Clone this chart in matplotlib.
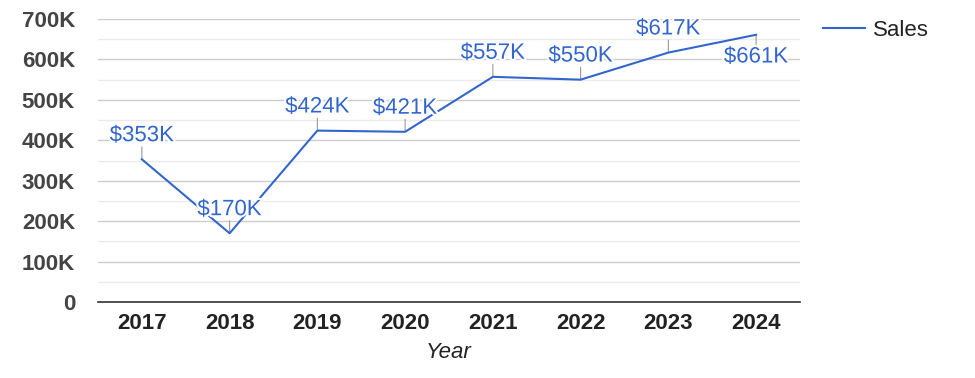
import matplotlib.pyplot as plt
import matplotlib.patheffects as pe
from matplotlib.ticker import MultipleLocator, FuncFormatter

years = ['2017', '2018', '2019', '2020', '2021', '2022', '2023', '2024']
sales = [353, 170, 424, 421, 557, 550, 617, 661]  # thousands
labels = ['$353K', '$170K', '$424K', '$421K', '$557K', '$550K', '$617K', '$661K']
label_side = ['up', 'up', 'up', 'up', 'up', 'up', 'up', 'down']

blue = '#3366cc'
plt.rcParams['font.family'] = ['Liberation Sans', 'DejaVu Sans']

fig = plt.figure(figsize=(9.75, 3.78), dpi=100)
ax = fig.add_axes([0.1005, 0.201, 0.72, 0.7487])

x = list(range(len(years)))
ax.plot(x, sales, color=blue, linewidth=1.5, label='Sales', zorder=3)

# data labels with little leader lines
for xi, v, txt, side in zip(x, sales, labels, label_side):
    sign = 1 if side == 'up' else -1
    ax.annotate('', xy=(xi, v), xytext=(0, sign * 9), textcoords='offset points',
                arrowprops=dict(arrowstyle='-', color='#999999', lw=0.8,
                                shrinkA=0, shrinkB=0), zorder=2)
    off = 17 if side == 'up' else 16
    ax.annotate(txt, xy=(xi, v), xytext=(0, sign * off), textcoords='offset points',
                ha='center', va='center', fontsize=16, color=blue, zorder=4,
                path_effects=[pe.withStroke(linewidth=3, foreground='white')])

ax.set_xlim(-0.5, len(years) - 0.5)
ax.set_ylim(0, 700)
ax.set_xticks(x)
ax.set_xticklabels(years, fontsize=16, fontweight='bold', color='#222222')
ax.yaxis.set_major_locator(MultipleLocator(100))
ax.yaxis.set_minor_locator(MultipleLocator(50))
ax.yaxis.set_major_formatter(FuncFormatter(lambda v, p: '0' if v == 0 else f'{int(v)}K'))
for t in ax.get_yticklabels():
    t.set_fontsize(16)
    t.set_fontweight('bold')
    t.set_color('#444444')
ax.tick_params(axis='y', which='both', length=0, pad=16.5)
ax.tick_params(axis='x', length=0, pad=8)

ax.grid(axis='y', which='major', color='#cccccc', linewidth=1)
ax.grid(axis='y', which='minor', color='#ebebeb', linewidth=1)
ax.set_axisbelow(True)
for s in ['top', 'right', 'left']:
    ax.spines[s].set_visible(False)
ax.spines['bottom'].set_color('#333333')
ax.spines['bottom'].set_linewidth(1.2)

ax.set_xlabel('Year', fontsize=16, style='italic', color='#222222', labelpad=6)

leg = ax.legend(loc='center left', bbox_to_anchor=(823 / 975, 1 - 30 / 378), bbox_transform=fig.transFigure,
                frameon=False, fontsize=16, handlelength=1.9, handletextpad=0.36,
                borderpad=0, borderaxespad=0)
for t in leg.get_texts():
    t.set_color('#222222')

fig.savefig('out.png', dpi=100)
